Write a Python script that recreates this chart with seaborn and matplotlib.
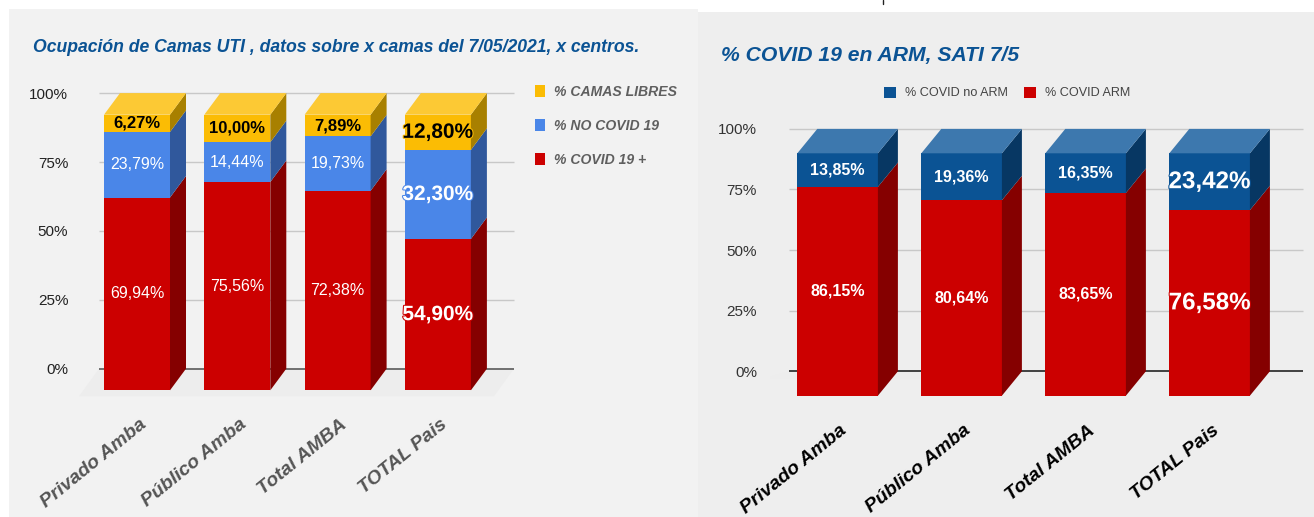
import matplotlib.pyplot as plt
import matplotlib.patheffects as pe
import seaborn as sns
from matplotlib.lines import Line2D
from matplotlib.patches import Rectangle
from matplotlib.transforms import ScaledTranslation

categories = ['Privado Amba', 'Público Amba', 'Total AMBA', 'TOTAL Pais']

covid_pos = [69.94, 75.56, 72.38, 54.90]
no_covid = [23.79, 14.44, 19.73, 32.30]
camas_libres = [6.27, 10.00, 7.89, 12.80]

covid_arm = [86.15, 80.64, 83.65, 76.58]
covid_no_arm = [13.85, 19.36, 16.35, 23.42]

W, H = 1314, 517

sns.set_theme(style='white')
plt.rcParams['font.family'] = ['Liberation Sans', 'DejaVu Sans']

fig = plt.figure(figsize=(W / 100, H / 100), dpi=100, facecolor='white')


def panel(x0, y0, x1, y1, color):
    fig.patches.append(Rectangle((x0 / W, 1 - y1 / H), (x1 - x0) / W, (y1 - y0) / H,
                                 transform=fig.transFigure, color=color, lw=0, zorder=-5))


def fmt(v):
    return f'{v:.2f}%'.replace('.', ',')


def stacked_3d(box, bar0, pitch, width, y0, y100, dx, dy, grid_x, series, ground, grid_color,
               zero_color, tick_color, xlabel_color, xlabel_shift, sizes, ypad):
    # box is left, top, right, bottom in pixels, the scale is the front plane of the bars
    left, top, right, bottom = box
    ax = fig.add_axes([left / W, 1 - bottom / H, (right - left) / W, (bottom - top) / H])
    ax.patch.set_alpha(0)
    per = (y0 - y100) / 100
    ddx = dx / pitch
    ddy = dy / per

    bottoms = [0] * len(categories)
    for name, vals, col, side, roof in series:
        sns.barplot(x=categories, y=vals, bottom=bottoms, color=col, saturation=1, width=width / pitch,
                    label=name, ax=ax, zorder=3, linewidth=0)
        for i, v in enumerate(vals):
            b = bottoms[i]
            xr = i + width / pitch / 2
            ax.fill([xr, xr + ddx, xr + ddx, xr], [b, b + ddy, b + v + ddy, b + v], color=side, lw=0, zorder=3)
            if roof is not None:
                xl = i - width / pitch / 2
                ax.fill([xl, xl + ddx, xr + ddx, xr], [b + v, b + v + ddy, b + v + ddy, b + v],
                        color=roof, lw=0, zorder=3)
        bottoms = [b + v for b, v in zip(bottoms, vals)]

    # labels of the bars, last column is bigger in both charts
    for cont, (name, vals, col, side, roof) in zip(ax.containers, series):
        txt_col = 'black' if col == '#fbbc04' else 'white'
        labs = ax.bar_label(cont, labels=[fmt(v) for v in vals], label_type='center', color=txt_col,
                            fontsize=sizes[0])
        for t in labs:
            t.set_zorder(6)
            if txt_col == 'black':
                t.set_fontweight('bold')
                t.set_fontsize(sizes[0] + 0.5)
            elif sizes[2]:
                t.set_fontweight('bold')
        labs[-1].set_fontsize(sizes[1])
        labs[-1].set_fontweight('bold')
        labs[-1].set_path_effects([pe.withStroke(linewidth=1.5, foreground=col)])

    ax.set_xlim((left - bar0) / pitch, (right - bar0) / pitch)
    ax.set_ylim((y0 - bottom) / per, (y0 - top) / per)

    # back plane, grid and floor
    gx0 = (grid_x[0] - bar0) / pitch
    gx1 = (grid_x[1] - bar0) / pitch
    ticks = [0, 25, 50, 75, 100]
    for t in ticks:
        ax.hlines(t + ddy, gx0, gx1, color=zero_color if t == 0 else grid_color, lw=1.3 if t == 0 else 1, zorder=1)
    ax.fill([gx0, gx1, gx1 - ddx * 1.25, gx0 - ddx * 1.25],
            [ddy, ddy, ddy - ground, ddy - ground], color='#ededed', lw=0, zorder=0)

    ax.set_yticks([t + ddy for t in ticks])
    ax.set_yticklabels([f'{t}%' for t in ticks], color=tick_color, fontsize=11)
    ax.tick_params(axis='y', length=0, pad=ypad)
    ax.set_xticks(range(len(categories)))
    ax.set_xticklabels(categories, rotation=39, ha='right', va='top', rotation_mode='anchor',
                       color=xlabel_color, fontsize=14, fontstyle='italic', fontweight='bold')
    ax.tick_params(axis='x', length=0, pad=xlabel_shift[1])
    shift = ScaledTranslation(xlabel_shift[0] / 100, 0, fig.dpi_scale_trans)
    for lab in ax.get_xticklabels():
        lab.set_transform(lab.get_transform() + shift)
    sns.despine(ax=ax, left=True, bottom=True)
    ax.set_xlabel('')
    ax.set_ylabel('')
    return ax


panel(9, 9, 698, H, '#f2f2f2')
panel(698, 12, W, H, '#eeeeee')

series_left = [
    ('% COVID 19 +', covid_pos, '#cc0000', '#850000', None),
    ('% NO COVID 19', no_covid, '#4a86e8', '#30589c', None),
    ('% CAMAS LIBRES', camas_libres, '#fbbc04', '#a88000', '#fcc934'),
]
ax1 = stacked_3d((78, 90, 516, 398), 137, 100.3, 66, 390.3, 114.7, 16, 21.6, (99, 514), series_left, 10,
                 '#c8c8c8', '#666666', '#222222', '#555555', (2, 13), (11.5, 15, False), 7)
ax1.legend(ax1.containers[::-1], [s[0] for s in series_left[::-1]], loc='upper left',
           bbox_to_anchor=(522 / W, 1 - 72 / H), bbox_transform=fig.transFigure, frameon=False,
           handlelength=0.72, handleheight=1.0, handletextpad=0.65, labelspacing=1.43,
           labelcolor='#5f5f5f', prop={'size': 10.1, 'style': 'italic', 'weight': 'bold'})

series_right = [
    ('% COVID ARM', covid_arm, '#cc0000', '#850000', None),
    ('% COVID no ARM', covid_no_arm, '#0b5394', '#073763', '#3d78ae'),
]
ax2 = stacked_3d((770, 126, 1306, 401), 837.6, 124, 80.6, 395.7, 153.3, 20, 24.4, (788.7, 1302.8), series_right, 3,
                 '#c8c8c8', '#333333', '#333333', 'black', (2, 15), (11.5, 17.4, True), 9.4)
ax2.legend(ax2.containers[::-1], [s[0] for s in series_right[::-1]], loc='center left',
           bbox_to_anchor=(873 / W, 1 - 93 / H), bbox_transform=fig.transFigure, frameon=False, ncol=2,
           handlelength=0.95, handleheight=1.0, handletextpad=0.7, columnspacing=1.27,
           labelcolor='#444444', prop={'size': 9.1})

fig.text(33 / W, 1 - 48 / H, 'Ocupación de Camas UTI , datos sobre x camas del 7/05/2021, x centros.',
         color='#0b5394', fontsize=12.7, fontstyle='italic', fontweight='bold', va='center')
fig.text(721 / W, 1 - 55 / H, '% COVID 19 en ARM, SATI 7/5',
         color='#0b5394', fontsize=15.2, fontstyle='italic', fontweight='bold', va='center')
# small dark stem left at the top edge of the source image
fig.add_artist(Line2D([883 / W, 883 / W], [1, 1 - 4 / H], color='#222222', lw=1, transform=fig.transFigure))

fig.savefig('out.png', dpi=100)
